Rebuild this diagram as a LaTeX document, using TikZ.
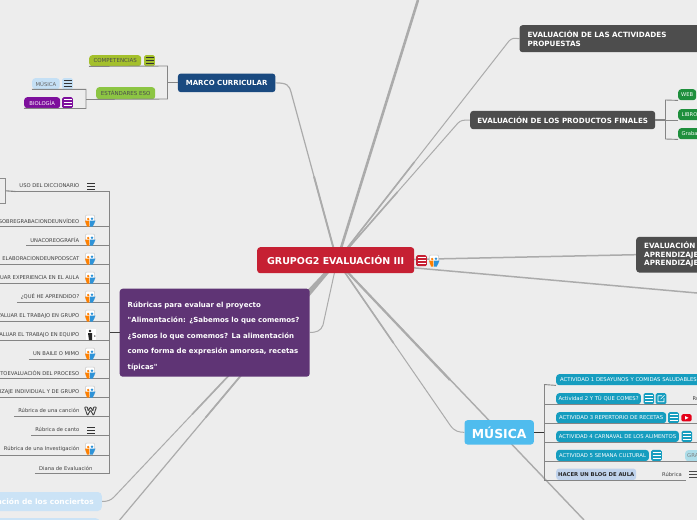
\documentclass[tikz,border=0pt]{standalone}
\usepackage{fontspec}
\setmainfont{DejaVu Sans}
\newfontfamily\plainquotes{DejaVu Sans}
\usetikzlibrary{backgrounds,calc}
\definecolor{bggray}{HTML}{EDEDED}
\definecolor{spokegray}{HTML}{ABABAB}
\definecolor{branchgray}{HTML}{858585}
\definecolor{rootred}{HTML}{C62033}
\definecolor{rubricpurple}{HTML}{5F3475}
\definecolor{marcoblue}{HTML}{1A4A80}
\definecolor{evalgray}{HTML}{4D4D4D}
\definecolor{olivegreen}{HTML}{A4C02C}
\definecolor{leafgreen}{HTML}{8CC543}
\definecolor{paleblue}{HTML}{C5E0F5}
\definecolor{biopurple}{HTML}{7D0F9C}
\definecolor{webgreen}{HTML}{1E8F3C}
\definecolor{musicblue}{HTML}{4FBCEE}
\definecolor{actteal}{HTML}{169DBF}
\definecolor{blogblue}{HTML}{C0D3EC}
\definecolor{peopleblue}{HTML}{2E93D8}
\tikzset{
  boxnode/.style={anchor=north west,rounded corners=3pt,inner sep=0pt,align=center},
  listitem/.style={anchor=east,inner xsep=4pt,inner ysep=0pt,minimum height=11.2pt,
    text=black!75,font=\fontsize{5.2}{6}\selectfont},
  iconbox/.style={anchor=north west,rounded corners=1.5pt,inner sep=0pt,minimum width=10.6pt,minimum height=11pt},
  spoke/.style={draw=spokegray,line width=1.2pt},
  spokefat/.style={draw=spokegray,line width=1.9pt},
  branch/.style={draw=branchgray,line width=.9pt},
  actbox/.style={boxnode,fill=actteal,text=white,minimum height=11pt,font=\fontsize{5.3}{6}\selectfont},
  menu/.pic={\draw[pic actions,line width=.7pt] (-4,-3) -- (4,-3) (-4,0) -- (4,0) (-4,3) -- (4,3);},
  people/.pic={
    \draw[black!22,fill=white,line width=.5pt,rounded corners=1pt] (-4.5,-6) rectangle (4.5,3);
    \fill[orange] (-1.8,-2) circle (1.3);
    \fill[orange] (-5,-.5) -- (-.5,-.5) -- (-.7,5.5) -- (-3,5.5) -- cycle;
    \fill[peopleblue] (2,-2.3) circle (1.3);
    \fill[peopleblue] (-.2,-.5) -- (5.5,-.5) -- (2.8,5.5) -- (.2,5.5) -- cycle;
  },
  weebly/.pic={\draw[black!75,line width=.9pt,rounded corners=.8pt] (-6,-4) -- (-3,4.5) -- (0,-1) -- (3,4.5) -- (6,-4) -- (3,-4) -- (2.5,0) -- (0,-4) -- (-2.5,0) -- (-3,-4) -- cycle;},
  figure/.pic={
    \fill[white] (-5,-6) rectangle (5,5);
    \fill[black!85] (-1,-4) circle (1.3) (-3,-2) -- (1,-2) -- (1,5) -- (-2,5) -- cycle;
    \fill[black!50] (3,0) -- (5,1) -- (3,2) -- cycle;
  },
  ytube/.pic={
    \fill[red!90!blue,rounded corners=1.5pt] (-5.2,-3.6) rectangle (5.2,3.6);
    \fill[white] (-1.5,-1.7) -- (2,0) -- (-1.5,1.7) -- cycle;
  }
}
\begin{document}
\begin{tikzpicture}[x=1pt,y=-1pt]
  \useasboundingbox (0,0) rectangle (697,520);
  \begin{scope}[on background layer]
    \fill[bggray] (0,0) rectangle (697,520);
  \end{scope}

  % centre
  \node[boxnode,fill=rootred,text=white,minimum width=157pt,minimum height=26pt,
    font=\bfseries\fontsize{9.5}{11}\selectfont] (root) at (257,247) {GRUPOG2 EVALUACIÓN III};
  \coordinate (hub) at (337,261);
  \node[iconbox,fill=rootred] (rootmenu) at (416,255) {};
  \pic[draw=white] at (rootmenu) {menu};
  \pic at (434,261) {people};

  % rubricas
  \node[boxnode,fill=rubricpurple,text=white,align=left,minimum height=88pt,
    text width=174pt,inner xsep=8pt,font=\plainquotes\bfseries\fontsize{7}{15.5}\selectfont] (rubricas) at (119.5,288.5)
    {\rule{0pt}{13pt}Rúbricas para evaluar el proyecto\\
     "Alimentación: ¿Sabemos lo que comemos?\\
     ¿Somos lo que comemos? La alimentación\\
     como forma de expresión amorosa, recetas\\
     típicas"};

  % marco curricular
  \node[boxnode,fill=marcoblue,text=white,minimum width=97.5pt,minimum height=18.7pt,
    font=\bfseries\fontsize{7}{8}\selectfont] (marco) at (177.7,73.3) {MARCO CURRICULAR};
  \node[boxnode,fill=olivegreen,text=black!70,minimum width=52pt,minimum height=11pt,
    font=\fontsize{5.5}{6}\selectfont] (compet) at (89,55) {COMPETENCIAS};
  \node[iconbox,fill=olivegreen] (competmenu) at (144,55) {};
  \pic[draw=black!80] at (competmenu) {menu};
  \node[boxnode,fill=leafgreen,text=black!70,minimum width=59pt,minimum height=12pt,
    font=\fontsize{5.5}{6}\selectfont] (estandar) at (96,87) {ESTÁNDARES ESO};
  \node[boxnode,fill=paleblue,text=black!60,minimum width=27.5pt,minimum height=11pt,
    font=\fontsize{5.3}{6}\selectfont] (musica) at (32,78) {MÚSICA};
  \node[iconbox,fill=paleblue] (musicamenu) at (62,78) {};
  \pic[draw=black!80] at (musicamenu) {menu};
  \node[boxnode,fill=biopurple,text=white!80,minimum width=36pt,minimum height=11pt,
    font=\fontsize{5.3}{6}\selectfont] (bio) at (24,97) {BIOLOGÍA};
  \node[iconbox,fill=biopurple] (biomenu) at (62,97) {};
  \pic[draw=white] at (biomenu) {menu};
  \coordinate (mtop) at (167.5,66);
  \coordinate (mbot) at (167.5,99);
  \coordinate (etop) at (86,89.3);
  \coordinate (ebot) at (86,108.5);
  \draw[branch] (compet.south west) -- (mtop) -- (mbot) -- (estandar.south west);
  \draw[branch,line width=1.2pt] (marco.west) -- (mtop |- marco.west);
  \draw[branch] (musica.south west) -- (etop) -- (ebot) -- (bio.south west);
  \draw[branch,line width=1.2pt] (estandar.south west) -- (etop |- estandar.south west);

  % lista de rubricas
  \node[anchor=east,draw=black!45,minimum width=12pt,minimum height=25pt,inner sep=0pt,line width=.7pt] (dicbox) at (5.7,190.8) {};
  \node[listitem] (dic) at (83.5,185.7) {USO DEL DICCIONARIO};
  \node[listitem] (video) at (83.5,220.7) {SOBREGRABACIONDEUNVÍDEO};
  \node[listitem] (coreo) at (83.5,239.7) {UNACOREOGRAFÍA};
  \node[listitem] (podcast) at (83.5,258.7) {ELABORACIONDEUNPODSCAT};
  \node[listitem] (aula) at (83.5,277.7) {EVALUAR EXPERIENCIA EN EL AULA};
  \node[listitem] (aprendido) at (83.5,296.7) {¿QUÉ HE APRENDIDO?};
  \node[listitem] (grupo) at (83.5,315.7) {EVALUAR EL TRABAJO EN GRUPO};
  \node[listitem] (equipo) at (83.5,334.7) {EVALUAR EL TRABAJO EN EQUIPO};
  \node[listitem] (mimo) at (83.5,353.7) {UN BAILE O MIMO};
  \node[listitem] (proceso) at (83.5,372.7) {AUTOEVALUACIÓN DEL PROCESO};
  \node[listitem] (indiv) at (83.5,391.7) {APRENDIZAJE INDIVIDUAL Y DE GRUPO};
  \node[listitem] (cancion) at (83.5,410.7) {Rúbrica de una canción};
  \node[listitem] (canto) at (83.5,429.7) {Rúbrica de canto};
  \node[listitem] (investig) at (83.5,449.4) {Rúbrica de una Investigación};
  \node[listitem] (diana) at (96.5,468.1) {Diana de Evaluación};
  \coordinate (ltop) at (109.5,191.3);
  \coordinate (lbot) at (109.5,473.7);
  \draw[branch] (ltop) -- (lbot);
  \draw[branch,line width=1.1pt] (dicbox.east) -- (dic.south west);
  \foreach \n in {dic,video,coreo,podcast,aula,aprendido,grupo,equipo,mimo,proceso,indiv,cancion,canto,investig,diana}
    \draw[branch] (\n.south west) -- (ltop |- \n.south);
  \draw[branch,black!75,line width=1.1pt] (rubricas.west |- 0,332.5) -- (109.5,332.5);
  \pic[draw=black!80] at (91,186) {menu};
  \pic at (90,221) {people};
  \pic at (90,240) {people};
  \pic at (90,259) {people};
  \pic at (90,278) {people};
  \pic at (90,297) {people};
  \pic at (90,316) {people};
  \pic at (91,335) {figure};
  \pic at (90,354) {people};
  \pic at (90,373) {people};
  \pic at (90,392) {people};
  \pic at (90.5,411) {weebly};
  \pic[draw=black!80] at (91,430) {menu};
  \pic at (90,449) {people};

  % conciertos
  \node[anchor=east,rounded corners=4pt,fill=paleblue!90!white,text=white,minimum height=19pt,inner xsep=8pt,
    font=\bfseries\fontsize{7.5}{9}\selectfont] (conciertos) at (102,501.5) {Grabación de los conciertos};
  \node[anchor=north east,rounded corners=4pt,fill=paleblue!90!white,minimum width=110pt,minimum height=19pt] (conciertosb) at (100,518) {};
  \coordinate (bottomb) at (118,522);

  % derecha
  \node[boxnode,fill=evalgray,text=white,align=left,text width=190pt,inner xsep=8pt,minimum height=27pt,
    font=\bfseries\fontsize{7.2}{9.5}\selectfont] (activ) at (519.3,25)
    {EVALUACIÓN DE LAS ACTIVIDADES\\PROPUESTAS};
  \node[boxnode,fill=evalgray,text=white,minimum width=185pt,minimum height=18.3pt,
    font=\bfseries\fontsize{7.15}{8}\selectfont] (productos) at (470,110.7) {EVALUACIÓN DE LOS PRODUCTOS FINALES};
  \node[boxnode,fill=webgreen,text=white!85,minimum width=18pt,minimum height=11pt,
    font=\fontsize{5.2}{6}\selectfont] (web) at (678,89) {WEB};
  \node[boxnode,fill=webgreen,text=white!85,align=left,text width=36pt,inner xsep=3.5pt,minimum height=11pt,
    font=\fontsize{5.2}{6}\selectfont] (libro) at (678,109) {LIBRO};
  \node[boxnode,fill=webgreen,text=white!85,align=left,text width=36pt,inner xsep=3.5pt,minimum height=11pt,
    font=\fontsize{5.2}{6}\selectfont] (grabacion) at (678,128) {Grabación};
  \coordinate (ptop) at (665.5,100);
  \coordinate (pbot) at (665.5,139);
  \draw[branch] (web.south west) -- (ptop) -- (pbot) -- (grabacion.south west);
  \draw[branch] (libro.south west) -- (ptop |- libro.south west);
  \draw[branch,line width=1.2pt] (productos.east) -- (ptop |- productos.east);
  \node[boxnode,fill=evalgray,text=white,align=left,text width=60pt,inner xsep=8pt,minimum height=35.6pt,
    font=\bfseries\fontsize{7.2}{8.5}\selectfont] (aprend) at (636,236.7)
    {EVALUACIÓN\\APRENDIZAJE\\APRENDIZAJE};

  % musica
  \node[boxnode,fill=musicblue,text=white,minimum width=69.4pt,minimum height=24.3pt,
    font=\bfseries\fontsize{12.4}{14}\selectfont] (music) at (464.3,420) {MÚSICA};
  \coordinate (atop) at (544,384.5);
  \coordinate (abot) at (544,480);
  \draw[branch] (atop) -- (abot);
  \draw[branch,black!80,line width=1.1pt] (music.east) -- (atop |- music.east);
  \node[actbox,align=left,text width=150pt,inner xsep=4pt] (act1) at (556,374) {ACTIVIDAD 1 DESAYUNOS Y COMIDAS SALUDABLES};
  \node[actbox,minimum width=84.7pt] (act2) at (556,393) {Actividad 2 Y TÚ QUE COMES?};
  \node[iconbox,fill=actteal] (act2menu) at (643.3,393) {};
  \pic[draw=white] at (act2menu) {menu};
  \node[iconbox,fill=actteal] (act2link) at (655.5,393) {};
  \draw[white,line width=.6pt] ($(act2link)+(1,-3)$) -- ($(act2link)+(-3,-3)$) -- ($(act2link)+(-3,3)$) -- ($(act2link)+(3,3)$) -- ($(act2link)+(3,-.5)$) ($(act2link)+(-.5,.5)$) -- ($(act2link)+(3.5,-3.5)$);
  \node[listitem,anchor=west,inner xsep=0pt] (act2rub) at (692.5,398.5) {Rúbrica};
  \node[actbox,minimum width=110pt] (act3) at (556,412) {ACTIVIDAD 3 REPERTORIO DE RECETAS};
  \node[iconbox,fill=actteal] (act3menu) at (668,412) {};
  \pic[draw=white] at (act3menu) {menu};
  \pic at (686.5,417.8) {ytube};
  \node[actbox,minimum width=122.7pt] (act4) at (556,430.7) {ACTIVIDAD 4 CARNAVAL DE LOS ALIMENTOS};
  \node[iconbox,fill=actteal] (act4menu) at (681.3,430.7) {};
  \pic[draw=white] at (act4menu) {menu};
  \node[actbox,minimum width=92.7pt] (act5) at (556,449.7) {ACTIVIDAD 5 SEMANA CULTURAL};
  \node[iconbox,fill=actteal] (act5menu) at (651,449.7) {};
  \pic[draw=white] at (act5menu) {menu};
  \node[boxnode,fill=actteal!35,text=black!50,minimum height=11pt,text width=30pt,align=left,inner xsep=2pt,
    font=\fontsize{5.3}{6}\selectfont] (gra) at (685,450) {GRA};
  \node[boxnode,fill=blogblue,text=black!85,minimum width=80pt,minimum height=11.5pt,
    font=\bfseries\fontsize{5.3}{6}\selectfont] (blog) at (556,468.3) {HACER UN BLOG DE AULA};
  \node[listitem,anchor=center,inner xsep=0pt] (blogrub) at (672,474.3) {Rúbrica};
  \pic[draw=black!70] at (693,474.5) {menu};
  \foreach \n in {act2,act3,act4,act5}
    \draw[branch] (atop |- \n.south) -- (697,0 |- \n.south);
  \draw[branch] (atop) -- (act1.south west);
  \draw[branch] (abot) -- (686,480);

  % radios
  \begin{scope}[on background layer]
    \draw[spoke] (marco.east) .. controls (287,83) and (289,85) .. (291,92) -- (hub);
    \draw[spokefat] (hub) -- ($(hub)!.5!(291,92)$);
    \draw[spokefat,line width=2.6pt] (hub) -- (418,0);
    \draw[spoke,line width=1pt] (activ.west) .. controls (514,38) and (512,38) .. (509,41) -- (hub);
    \draw[spokefat,line width=1.6pt] (hub) -- ($(hub)!.45!(509,41)$);
    \draw[spoke,line width=1pt] (productos.west) .. controls (464,120) and (461,120) .. (458,123) -- (hub);
    \draw[spokefat,line width=1.6pt] (hub) -- ($(hub)!.5!(458,123)$);
    \draw[spoke,line width=1.5pt] (hub) -- (aprend.west);
    \draw[spoke,line width=1.5pt] (hub) -- (697,293);
    \draw[spoke,line width=1pt] (rubricas.east |- 0,332.5) .. controls (316,332.5) and (321,331) .. (323,325) -- (hub);
    \draw[spoke,line width=1pt] (music.west) .. controls (459,432) and (455,432) .. (450,425) -- (hub);
    \draw[spokefat,line width=1.6pt] (hub) -- ($(hub)!.5!(450,425)$);
    \draw[spoke,line width=1.4pt] (hub) -- (584,520);
    \draw[spokefat,line width=2.2pt] (hub) -- (450,380);
    \draw[spoke,line width=1pt] (conciertos.east) .. controls (108,501.5) and (111,500) .. (114,497) -- (hub);
    \draw[spokefat,line width=1.6pt] (hub) -- ($(hub)!.65!(114,497)$);
    \draw[spokefat,line width=3pt] (hub) -- ($(hub)!.2!(114,497)$);
    \draw[spoke] (bottomb) -- (hub);
    \draw[spokefat,line width=1.7pt] (hub) -- ($(hub)!.6!(bottomb)$);
    \draw[spokefat,line width=3pt] (hub) -- ($(hub)!.2!(bottomb)$);
  \end{scope}
\end{tikzpicture}
\end{document}
